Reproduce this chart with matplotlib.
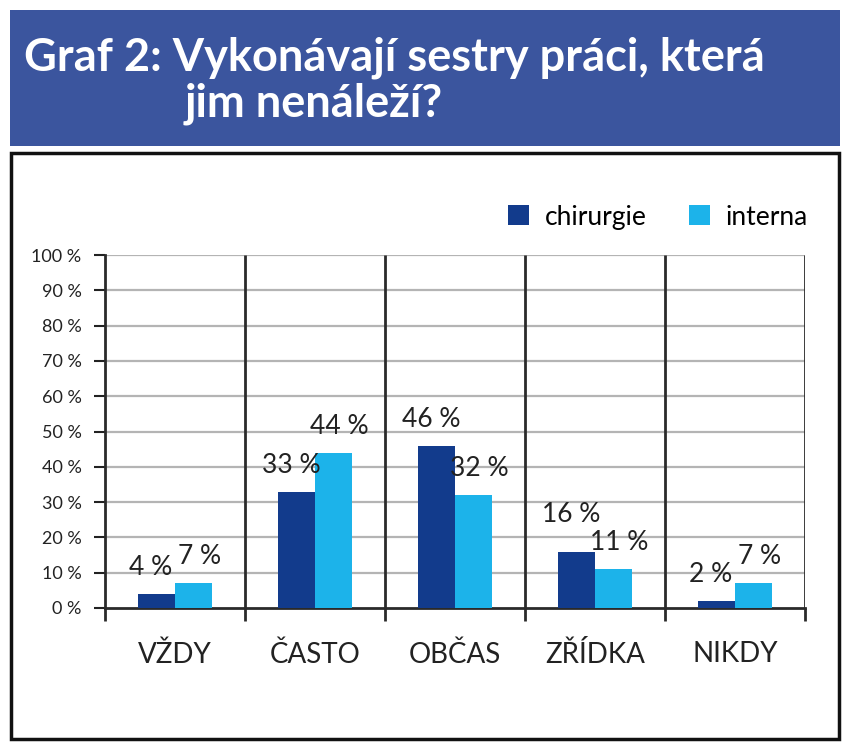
import matplotlib.pyplot as plt
import numpy as np
from matplotlib.patches import Rectangle, Patch

# data
categories = ["VŽDY", "ČASTO", "OBČAS", "ZŘÍDKA", "NIKDY"]
chirurgie = [4, 33, 46, 16, 2]
interna = [7, 44, 32, 11, 7]
series_names = ["chirurgie", "interna"]
yticks = [0, 10, 20, 30, 40, 50, 60, 70, 80, 90, 100]
ytick_labels = [f"{v} %" for v in yticks]

c_dark = "#123b8c"
c_light = "#1cb3ea"
banner = "#3b559e"

plt.rcParams['font.family'] = ['Lato', 'DejaVu Sans']

W, H = 850, 746
fig = plt.figure(figsize=(W / 100, H / 100), dpi=100)

def fx(px):
    return px / W

def fy(py):
    return 1 - py / H

# title banner
fig.patches.append(Rectangle((fx(10), fy(146)), fx(840) - fx(10), fy(10) - fy(146),
                             transform=fig.transFigure, facecolor=banner, edgecolor="none", zorder=0))
fig.text(fx(24), fy(58), "Graf 2: Vykonávají sestry práci, která", color="white",
         fontsize=32.5, fontweight="bold", va="center", ha="left")
fig.text(fx(185), fy(104), "jim nenáleží?", color="white",
         fontsize=32.5, fontweight="bold", va="center", ha="left")

# chart frame
fig.patches.append(Rectangle((fx(11), fy(739)), fx(839) - fx(11), fy(153) - fy(739),
                             transform=fig.transFigure, facecolor="none", edgecolor="#111111",
                             linewidth=2.5, zorder=0))

ax = fig.add_axes([fx(105), fy(608), fx(805) - fx(105), fy(255) - fy(608)])
x = np.arange(len(categories))
bw = 0.265
b1 = ax.bar(x - bw / 2, chirurgie, bw, color=c_dark, zorder=3)
b2 = ax.bar(x + bw / 2, interna, bw, color=c_light, zorder=3)

# value labels; lift the chirurgie label where it would sit on the interna one
for i, (rect, v) in enumerate(zip(b1, chirurgie)):
    dy = 10 + (8 if 0 < v - interna[i] < 8 else 0)
    ax.annotate(f"{v} %", (rect.get_x() + rect.get_width() / 2, v),
                xytext=(-4, dy), textcoords="offset points",
                ha="center", va="bottom", fontsize=19, color="#222222", zorder=4)
for rect, v in zip(b2, interna):
    ax.annotate(f"{v} %", (rect.get_x() + rect.get_width() / 2, v),
                xytext=(4, 10), textcoords="offset points",
                ha="center", va="bottom", fontsize=19, color="#222222", zorder=4)

ax.set_xlim(-0.5, len(categories) - 0.5)
ax.set_ylim(0, 100)
ax.set_yticks(yticks)
ax.set_yticklabels(ytick_labels, fontsize=13, color="#222222")
ax.tick_params(axis="y", length=8, width=1.5, direction="out", pad=9, color="#222222")
for v in yticks[1:]:
    ax.axhline(v, color="#b4b4b4", linewidth=1.6, zorder=1)

# category dividers
bounds = np.arange(len(categories) + 1) - 0.5
ax.vlines(bounds[1:], 0, 100, color="#2a2a2a", linewidth=2, zorder=2)
ax.set_xticks(x)
ax.set_xticklabels(categories, fontsize=20, color="#222222")
ax.set_xticks(bounds, minor=True)
ax.tick_params(axis="x", which="major", length=0, pad=24)
ax.tick_params(axis="x", which="minor", length=9, width=2, direction="out", color="#2a2a2a")

for s in ("top", "right"):
    ax.spines[s].set_visible(False)
ax.spines["left"].set_linewidth(2)
ax.spines["bottom"].set_linewidth(2)
ax.spines["left"].set_color("#2a2a2a")
ax.spines["bottom"].set_color("#2a2a2a")

handles = [Patch(facecolor=c_dark), Patch(facecolor=c_light)]
fig.legend(handles, series_names, loc="center", bbox_to_anchor=(fx(658), fy(217)),
           ncol=2, frameon=False, fontsize=19, handlelength=0.8, handleheight=0.8,
           handletextpad=0.6, columnspacing=1.6)

fig.savefig("out.png", dpi=100)
